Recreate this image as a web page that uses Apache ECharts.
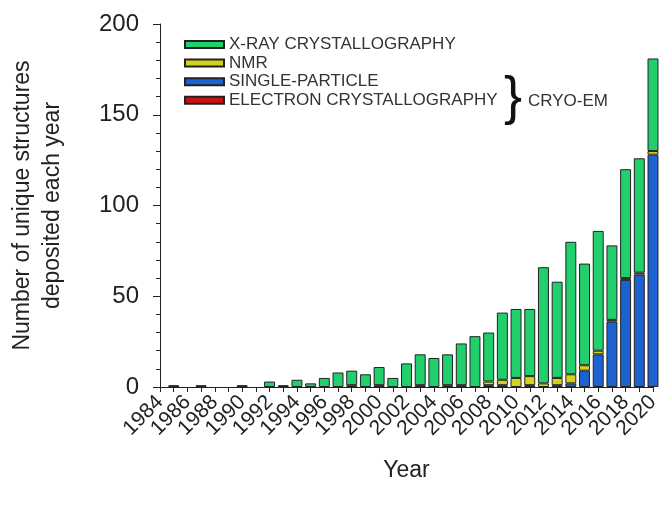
<!DOCTYPE html>
<html>
<head>
<meta charset="utf-8">
<script src="https://cdn.jsdelivr.net/npm/echarts@6/dist/echarts.min.js"></script>
<style>html,body{margin:0;padding:0;background:#fff}#c{width:663px;height:516px}</style>
</head>
<body>
<div id="c"></div>
<script>
var years = ['1984','1985','1986','1987','1988','1989','1990','1991','1992','1993','1994','1995','1996','1997','1998','1999','2000','2001','2002','2003','2004','2005','2006','2007','2008','2009','2010','2011','2012','2013','2014','2015','2016','2017','2018','2019','2020'];
var xray    = [0,1,0,1,0,0,0,0,3,1,4,2,5,8,8,7,10,5,13,17,16,17,23,28,27,37,38,37,64,53,73,56,66,41,60,63,51];
var nmr     = [0,0,0,0,0,0,0,0,0,0,0,0,0,0,1,0,0,0,0,0,0,1,0,0,2,3,5,5,2,4,5,3,2,1,1,1,2];
var single  = [0,0,0,0,0,0,0,0,0,0,0,0,0,0,0,0,0,0,0,0,0,0,0,0,0,0,0,0,0,1,2,9,18,36,59,62,128];
var electron= [0,0,0,0,0,0,1,0,0,0,0,0,0,0,0,0,1,0,0,1,0,0,1,0,1,1,0,1,0,0,0,0,0,0,0,0,0];
var names = ['X-RAY CRYSTALLOGRAPHY','NMR','SINGLE-PARTICLE','ELECTRON CRYSTALLOGRAPHY'];

var FONT = 'Liberation Sans, Arial, sans-serif';
function clean(a){ return a.map(function(v){ return v ? v : '-'; }); }
function mk(name, data, color){
  return {name:name, type:'bar', stack:'s', data:clean(data), barWidth:'80%', clip:false,
    itemStyle:{color:color, borderColor:'#222', borderWidth:1}, emphasis:{disabled:true}};
}
var chart = echarts.init(document.getElementById('c'));
chart.setOption({
  animation:false,
  textStyle:{fontFamily:FONT},
  grid:{left:154, top:24, right:10, bottom:129},
  legend:{orient:'vertical', left:184, top:36, padding:0, itemWidth:39, itemHeight:7, itemGap:1.6,
    data:names, icon:'rect',
    textStyle:{fontSize:17, lineHeight:17, color:'#333', fontFamily:FONT}},
  xAxis:{type:'category', data:years, boundaryGap:false,
    axisLine:{lineStyle:{color:'#222', width:1}},
    axisTick:{interval:0, length:5, lineStyle:{color:'#222'}},
    axisLabel:{interval:0, rotate:45, fontSize:21, color:'#222', margin:12, fontFamily:FONT,
      formatter:function(v, i){ return i % 2 ? '' : v; }},
    name:'Year', nameLocation:'middle', nameGap:72,
    nameTextStyle:{fontSize:23, color:'#222', fontFamily:FONT}},
  yAxis:{type:'value', min:0, max:200, interval:50,
    axisLine:{show:true, lineStyle:{color:'#222', width:1}},
    axisTick:{show:true, length:7, lineStyle:{color:'#222'}},
    minorTick:{show:true, splitNumber:5, length:4, lineStyle:{color:'#222'}},
    splitLine:{show:false},
    axisLabel:{fontSize:24, color:'#222', margin:21, fontFamily:FONT},
    name:'Number of unique structures\ndeposited each year', nameLocation:'middle', nameGap:92, nameRotate:90,
    nameTextStyle:{fontSize:23, lineHeight:30, color:'#222', fontFamily:FONT}},
  graphic:[
    {type:'text', left:504, top:72, style:{text:'}', font:'54px ' + FONT, fill:'#111'}},
    {type:'text', left:528, top:93, style:{text:'CRYO-EM', font:'17px ' + FONT, fill:'#333'}}
  ],
  series:[
    mk(names[3], electron, '#cc1010'),
    mk(names[2], single, '#1c62d0'),
    mk(names[1], nmr, '#d4d31c'),
    mk(names[0], xray, '#22cf6d')
  ]
});
</script>
</body>
</html>
